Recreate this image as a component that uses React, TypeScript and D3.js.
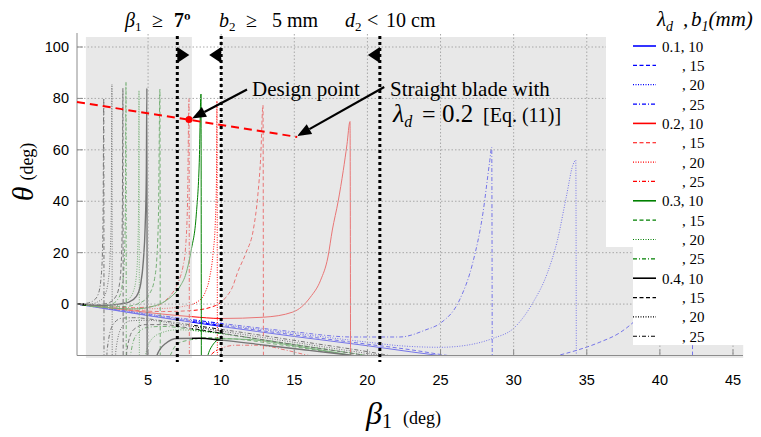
import React from "react";
import * as d3 from "d3";

const xTicks = [5, 10, 15, 20, 25, 30, 35, 40, 45];
const yTicks = [0, 20, 40, 60, 80, 100];

// [beta1 (deg), theta (deg)]; "up" = branch before the asymptote, "lo" = after
const up_01_10 = [[0.15, 0], [5, -4.5], [10, -8.7], [15, -12.6], [20, -16.2], [23, -18.6], [26, -20.8], [32, -25], [45, -33]];
const lo_01_10: number[][] = [];
const up_01_15 = [[0.15, 0], [5, -4.3], [10, -8.3], [15, -12], [20, -15.6], [23, -17.8], [25.5, -20], [29, -22], [32, -21.2], [33, -20], [34.3, -18], [35.9, -14.8], [37.3, -11], [38.2, -7], [39.4, 0], [40.4, 10], [41.2, 22], [41.8, 36], [42.2, 52]];
const lo_01_15 = [[42.25, -90]];
const up_01_20 = [[0.15, 0], [5, -4], [10, -7.9], [15, -11.4], [20, -14.8], [22.2, -16.2], [25, -16.8], [26.8, -16], [28.6, -13.3], [30, -9.4], [31.3, 0.4], [32.3, 12], [33, 25], [33.6, 41.7], [34.05, 54], [34.25, 56]];
const lo_01_20 = [[34.3, -90]];
const up_01_25 = [[0.15, 0], [5, -3.8], [10, -7.5], [15, -10.8], [19, -12.8], [22.2, -12.8], [24, -10], [25, -7.4], [26.3, 1.6], [27.2, 16], [27.9, 35.4], [28.35, 55], [28.5, 61]];
const lo_01_25 = [[28.55, -90]];

const up_02_10 = [[0.15, 0], [2, -1.2], [4, -2.6], [6, -3.9], [8, -4.9], [10, -5.6], [12.9, -5.1], [14.9, -3.1], [16.1, 2.7], [16.8, 9.3], [17.3, 18.3], [17.6, 28.8], [18, 40], [18.35, 52], [18.6, 62], [18.81, 71]];
const lo_02_10 = [[18.86, -90]];
const up_02_15 = [[0.15, 0], [2, -1.3], [4, -2.4], [6, -2.9], [8, -2.5], [9.6, -0.6], [10.3, 2.5], [10.8, 7], [11.1, 12], [11.7, 20], [12.2, 29], [12.5, 42], [12.7, 57], [12.86, 77.4]];
const lo_02_15 = [[12.9, -90]];
const up_02_20 = [[0.15, 0], [2, -1.1], [4, -1.9], [6, -1.7], [7.5, -0.8], [8.4, 1], [8.9, 4.5], [9.2, 10], [9.45, 20], [9.6, 32], [9.68, 50], [9.71, 79]];
const lo_02_20 = [[9.75, -90]];
const up_02_25 = [[0.15, 0], [2, -0.9], [4, -1.4], [5.5, -0.8], [6.3, 2], [6.8, 5.5], [7.1, 9], [7.4, 15], [7.55, 21], [7.7, 40], [7.8, 80]];
const lo_02_25 = [[7.84, -90], [8.8, -28], [9.2, -20.5], [10.1, -17], [11, -16], [12.5, -16], [14.5, -18], [16, -20], [17, -21]];

const up_03_10 = [[0.15, 0], [2, -1.3], [4, -1.9], [5.5, -0.6], [6.5, 2.5], [7.2, 7], [7.6, 12], [7.95, 21], [8.3, 35], [8.5, 55], [8.62, 81.7]];
const lo_03_10 = [[8.66, -90], [8.9, -26], [9.3, -17], [10, -13.5], [12, -13.8], [15, -16.2], [18, -19], [20, -21]];
const up_03_15 = [[0.15, 0], [2, -1.1], [3.5, -0.9], [4.5, 0.6], [5.1, 4], [5.45, 10], [5.62, 20], [5.72, 38], [5.81, 83.6]];
const lo_03_15 = [[5.85, -90], [6.1, -28], [6.6, -19], [7, -15.5], [7.8, -14], [9, -13.2], [11, -13.6], [14, -15.8], [17, -18.3], [20, -21]];
const up_03_20 = [[0.15, 0], [2, -0.9], [3, -0.4], [3.6, 1.5], [4, 5], [4.2, 11], [4.3, 22], [4.35, 40], [4.38, 83]];
const lo_03_20 = [[4.42, -90], [4.7, -24], [5.2, -14], [6, -11], [7, -10], [9, -10.8], [12, -13.2], [15, -15.7], [18, -18.2], [21, -21]];
const up_03_25 = [[0.15, 0], [1.5, -0.6], [2.5, 0], [3, 2.5], [3.25, 8], [3.38, 18], [3.45, 38], [3.49, 86.4]];
const lo_03_25 = [[3.52, -90], [3.8, -20], [4.2, -12], [5, -9], [6, -8.7], [8, -9.8], [11, -12.3], [15, -15.7], [19, -19.2], [21, -21]];

const up_04_10 = [[0.15, 0], [2, -0.5], [3, 0], [3.7, 0.8], [4.2, 3], [4.5, 8], [4.68, 17], [4.8, 30], [4.88, 50], [4.92, 84]];
const lo_04_10 = [[4.95, -90], [5.3, -28], [5.6, -20], [6.2, -15.3], [7, -13.4], [8.5, -13.3], [10, -14], [13, -16], [16, -18], [19, -20], [21, -21.5]];
const up_04_15 = [[0.15, 0], [1.5, -0.3], [2.3, 0.5], [2.8, 3], [3.05, 8], [3.18, 18], [3.24, 35], [3.28, 84]];
const lo_04_15 = [[3.31, -90], [3.55, -18], [4, -10], [4.8, -8], [6, -8], [8, -9.5], [11, -12.2], [15, -15.8], [19, -19.2], [21, -21]];
const up_04_20 = [[0.15, 0], [1, 0], [1.6, 1], [2, 3], [2.25, 8], [2.4, 18], [2.48, 35], [2.53, 85.6]];
const lo_04_20 = [[2.56, -90], [2.8, -18], [3.2, -9], [3.8, -6.5], [5, -6.3], [7, -7.8], [10, -10.5], [14, -14], [18, -17.5], [21.5, -20.5]];
const up_04_25 = [[0.15, 0], [0.8, 0.3], [1.3, 1.5], [1.6, 4], [1.78, 10], [1.88, 20], [1.93, 40], [1.97, 80]];
const lo_04_25 = [[2.0, -90], [2.2, -18], [2.6, -8], [3.2, -5.5], [4, -5.3], [6, -6.5], [9, -9], [12, -11.5], [16, -15], [20, -18.5], [22, -20.5]];

const lambdas = ["0.1", "0.2", "0.3", "0.4"];
const b1s = [10, 15, 20, 25];
const colors = ["#0000ff", "#ff0000", "#008000", "#000000"];
const dashes = ["", "4,2.5", "1,1.5", "4,2,1,2"];
const branches = [
  [[up_01_10, lo_01_10], [up_01_15, lo_01_15], [up_01_20, lo_01_20], [up_01_25, lo_01_25]],
  [[up_02_10, lo_02_10], [up_02_15, lo_02_15], [up_02_20, lo_02_20], [up_02_25, lo_02_25]],
  [[up_03_10, lo_03_10], [up_03_15, lo_03_15], [up_03_20, lo_03_20], [up_03_25, lo_03_25]],
  [[up_04_10, lo_04_10], [up_04_15, lo_04_15], [up_04_20, lo_04_20], [up_04_25, lo_04_25]],
];

// constraints: beta1 >= 7, b2 >= 5 mm, d2 < 10 cm
const limitLines = [7, 10, 20.85];
const limitDir = [1, -1, -1];
// shaded (infeasible) beta1 ranges
const shaded = [[0.75, 8.0], [10.1, 45.7]];
// straight blade line and design point
const straightBlade = [[0.14, 78.6], [15.2, 65]];
const designPoint = [7.8, 71.8];

const x = d3.scaleLinear().domain([0.14, 45]).range([77, 733]);
const y = d3.scaleLinear().domain([-20, 100]).range([355.5, 47]);

const serif = { fontFamily: "Liberation Serif" };
const sans = { fontFamily: "Liberation Sans" };

function Arrow({ x1, y1, x2, y2 }: { x1: number; y1: number; x2: number; y2: number }) {
  const a = Math.atan2(y2 - y1, x2 - x1);
  const L = 14, w = 5.5;
  const bx = x2 - L * Math.cos(a), by = y2 - L * Math.sin(a);
  const px = -Math.sin(a) * w, py = Math.cos(a) * w;
  return (
    <g>
      <line x1={x1} y1={y1} x2={bx} y2={by} stroke="#000" strokeWidth={2.2} />
      <polygon points={`${x2},${y2} ${bx + px},${by + py} ${bx - px},${by - py}`} fill="#000" />
    </g>
  );
}

export default function App() {
  const line = d3.line<number[]>().x(d => x(d[0])).y(d => y(d[1])).curve(d3.curveMonotoneX);
  const top = y(105), bottom = y(-20);
  const legendRows = lambdas.flatMap((l, i) => b1s.map((b, j) => ({ l, b, i, j })));
  const dp = [x(designPoint[0]), y(designPoint[1])];
  const se = [x(straightBlade[1][0]), y(straightBlade[1][1])];

  return (
    <svg width={761} height={437} style={{ position: "absolute", left: 0, top: 0, background: "#fff" }}>
      <defs>
        <clipPath id="plot">
          <rect x={77} y={top} width={666} height={bottom - top} />
        </clipPath>
      </defs>

      <g clipPath="url(#plot)" fill="none">
        {branches.map((row, i) =>
          row.map(([up, lo], j) => (
            <path key={`${i}-${j}`} d={line([...up, ...lo]) || ""} stroke={colors[i]}
              strokeWidth={i === 3 && j === 0 ? 1.4 : 1} strokeDasharray={dashes[j]} />
          ))
        )}
      </g>

      {shaded.map(([a, b], k) => (
        <rect key={k} x={x(a)} y={37} width={x(b) - x(a)} height={321} fill="#d6d6d6" opacity={0.55} />
      ))}

      {/* grid */}
      <g stroke="#a8a8a8" strokeWidth={1} strokeDasharray="1.5,2">
        {xTicks.map(t => <line key={t} x1={x(t)} x2={x(t)} y1={34} y2={bottom} />)}
        {yTicks.map(t => <line key={t} x1={77} x2={743} y1={y(t)} y2={y(t)} />)}
      </g>

      {/* axes */}
      <g stroke="#8c8c8c" strokeWidth={1}>
        <line x1={77} x2={77} y1={33} y2={bottom} />
        <line x1={77} x2={743} y1={bottom} y2={bottom} />
        {xTicks.map(t => <line key={t} x1={x(t)} x2={x(t)} y1={bottom} y2={bottom - 6} />)}
        {yTicks.map(t => <line key={t} x1={77} x2={83} y1={y(t)} y2={y(t)} />)}
      </g>
      <g style={sans} fontSize={14.5} fill="#000">
        {xTicks.map(t => <text key={t} x={x(t)} y={385} textAnchor="middle">{t}</text>)}
        {yTicks.map(t => <text key={t} x={69} y={y(t) + 5} textAnchor="end">{t}</text>)}
      </g>

      {/* straight blade line + design point */}
      <path d={line(straightBlade) || ""} stroke="#ff0000" strokeWidth={2} strokeDasharray="8,5" fill="none" />
      <circle cx={dp[0]} cy={dp[1]} r={3.5} fill="#ff0000" />

      {/* constraint lines */}
      {limitLines.map((b, k) => {
        const lx = x(b);
        const d = limitDir[k];
        return (
          <g key={k}>
            <line x1={lx} x2={lx} y1={36} y2={362} stroke="#000" strokeWidth={3} strokeDasharray="3,3" />
            <polygon points={`${lx},${47} ${lx},${63} ${lx + d * 12},${55}`} fill="#000" />
          </g>
        );
      })}

      {/* legend */}
      <rect x={606} y={0} width={155} height={247} fill="#fff" />
      <rect x={633} y={0} width={128} height={345} fill="#fff" />
      <text y={26} style={serif} fontSize={21} fontStyle="italic">
        <tspan x={657}>λ</tspan>
        <tspan fontSize={14} dy={5}>d</tspan>
        <tspan x={683} dy={-5}>,</tspan>
        <tspan x={691}>b</tspan>
        <tspan fontSize={14} dy={5}>1</tspan>
        <tspan dy={-5}>(mm)</tspan>
      </text>
      {legendRows.map((r, k) => {
        const cy = 46 + k * 19.35;
        return (
          <g key={k}>
            <line x1={633} x2={656} y1={cy} y2={cy} stroke={colors[r.i]}
              strokeWidth={r.j === 0 ? 1.6 : 1.2} strokeDasharray={dashes[r.j]} />
            <text x={r.j === 0 ? 662 : 682} y={cy + 5.5} style={serif} fontSize={15}>
              {r.j === 0 ? `${r.l}, ${r.b}` : `, ${r.b}`}
            </text>
          </g>
        );
      })}

      {/* header constraints */}
      <g style={serif} fontSize={20} fill="#000">
        <text y={27}>
          <tspan x={125} fontStyle="italic">β</tspan>
          <tspan fontSize={13} dy={4}>1</tspan>
          <tspan x={152} dy={-4}>≥</tspan>
          <tspan x={174} fontWeight="bold">7º</tspan>
        </text>
        <text y={27}>
          <tspan x={219} fontStyle="italic">b</tspan>
          <tspan fontSize={13} dy={4}>2</tspan>
          <tspan x={246} dy={-4}>≥</tspan>
          <tspan x={272}>5 mm</tspan>
        </text>
        <text y={27}>
          <tspan x={345} fontStyle="italic">d</tspan>
          <tspan fontSize={13} dy={4}>2</tspan>
          <tspan x={367} dy={-4}>&lt;</tspan>
          <tspan x={386}>10 cm</tspan>
        </text>
      </g>

      {/* annotations */}
      <Arrow x1={dp[0] + 58} y1={dp[1] - 30} x2={dp[0] + 3} y2={dp[1] - 1} />
      <Arrow x1={se[0] + 87} y1={se[1] - 50} x2={se[0]} y2={se[1] - 1} />
      <g style={serif} fill="#000">
        <text x={252} y={96} fontSize={21}>Design point</text>
        <text x={390} y={96} fontSize={21}>Straight blade with</text>
        <text y={122}>
          <tspan x={393} fontSize={26} fontStyle="italic">λ</tspan>
          <tspan fontSize={16} fontStyle="italic" dy={5}>d</tspan>
          <tspan x={422} dy={-5} fontSize={24}>=</tspan>
          <tspan x={442} fontSize={25}>0.2</tspan>
          <tspan x={483} fontSize={20}>[Eq. (11)]</tspan>
        </text>
      </g>

      {/* axis labels */}
      <text transform="translate(33,172) rotate(-90)" textAnchor="middle" style={serif}>
        <tspan fontSize={30} fontStyle="italic">θ</tspan>
        <tspan fontSize={18} dx={6}>(deg)</tspan>
      </text>
      <text y={424} style={serif}>
        <tspan x={366} fontSize={32} fontStyle="italic">β</tspan>
        <tspan fontSize={20} dy={4}>1</tspan>
        <tspan x={403} dy={-4} fontSize={18}>(deg)</tspan>
      </text>
    </svg>
  );
}
